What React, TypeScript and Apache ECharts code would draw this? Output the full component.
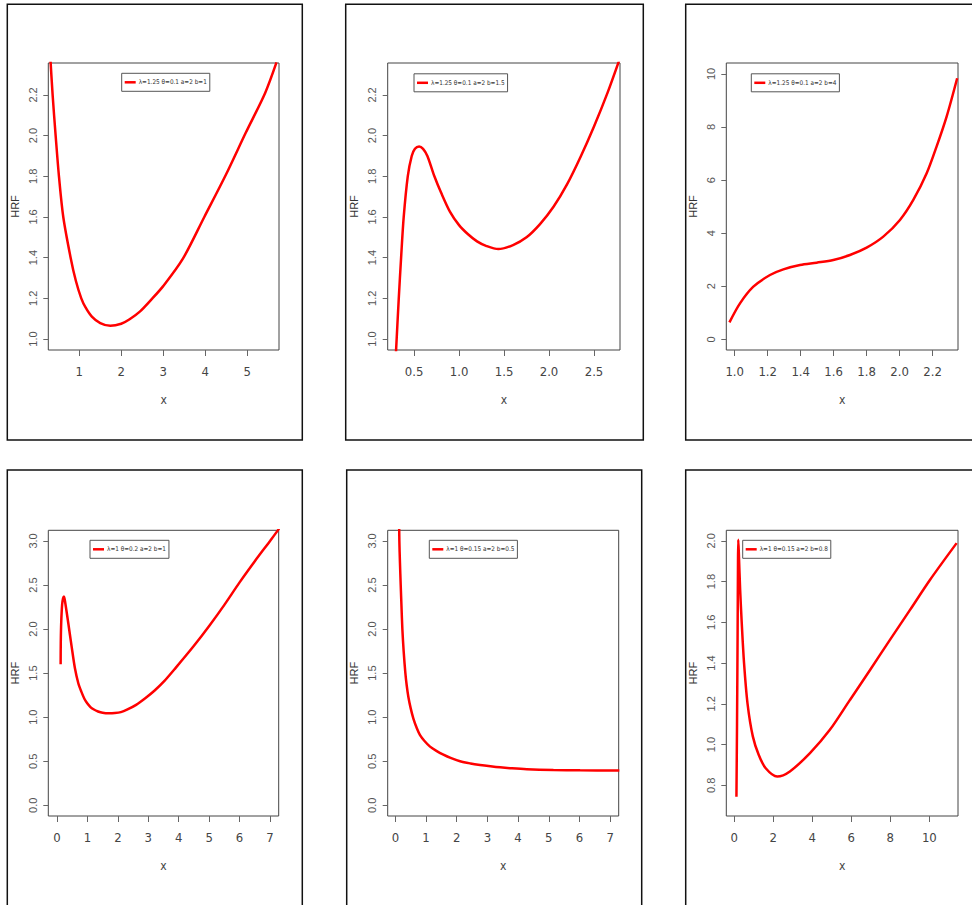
import React, { useEffect, useRef } from "react";
import * as echarts from "echarts";

// ---- Data ----
const p1Name = "λ=1.25 θ=0.1 a=2 b=1";
const p1X = [0.3, 0.365, 0.437, 0.516, 0.619, 0.794, 0.92, 1.048, 1.15, 1.3, 1.5, 1.74, 2.0, 2.2, 2.45, 2.7, 3.0, 3.47, 3.98, 4.5, 4.97, 5.43, 5.7];
const p1Y = [2.42, 2.2, 2.0, 1.8, 1.6, 1.4, 1.285, 1.2, 1.155, 1.11, 1.078, 1.065, 1.075, 1.097, 1.136, 1.19, 1.26, 1.395, 1.6, 1.81, 2.015, 2.21, 2.36];
const p1XTicks = [1, 2, 3, 4, 5];
const p1YTicks = [1.0, 1.2, 1.4, 1.6, 1.8, 2.0, 2.2];

const p2Name = "λ=1.25 θ=0.1 a=2 b=1.5";
const p2X = [0.295, 0.33, 0.356, 0.385, 0.43, 0.474, 0.51, 0.556, 0.6, 0.648, 0.726, 0.8, 0.9, 1.0, 1.1, 1.2, 1.3, 1.437, 1.6, 1.75, 1.9, 2.05, 2.2, 2.35, 2.5, 2.65, 2.78];
const p2Y = [0.9, 1.2, 1.4, 1.6, 1.8, 1.9, 1.935, 1.946, 1.935, 1.9, 1.8, 1.72, 1.625, 1.56, 1.515, 1.48, 1.458, 1.442, 1.462, 1.5, 1.565, 1.65, 1.76, 1.895, 2.045, 2.21, 2.37];
const p2XTicks = [0.5, 1.0, 1.5, 2.0, 2.5];
const p2YTicks = [1.0, 1.2, 1.4, 1.6, 1.8, 2.0, 2.2];

const p3Name = "λ=1.25 θ=0.1 a=2 b=4";
const p3X = [0.968, 1.032, 1.113, 1.214, 1.295, 1.396, 1.497, 1.598, 1.699, 1.8, 1.901, 2.002, 2.083, 2.164, 2.224, 2.285, 2.349];
const p3Y = [0.64, 1.357, 1.985, 2.425, 2.638, 2.8, 2.889, 2.99, 3.178, 3.455, 3.869, 4.497, 5.251, 6.256, 7.261, 8.392, 9.837];
const p3XTicks = [1.0, 1.2, 1.4, 1.6, 1.8, 2.0, 2.2];
const p3YTicks = [0, 2, 4, 6, 8, 10];

const p4Name = "λ=1 θ=0.2 a=2 b=1";
const p4X = [0.12, 0.125, 0.14, 0.17, 0.2, 0.23, 0.274, 0.372, 0.482, 0.59, 0.701, 0.8, 0.9, 1.0, 1.1, 1.2, 1.35, 1.5, 1.7, 1.9, 2.1, 2.3, 2.6, 2.9, 3.2, 3.5, 3.9, 4.5, 5.0, 5.5, 6.0, 6.5, 7.0, 7.3];
const p4Y = [1.6, 1.85, 2.08, 2.28, 2.35, 2.369, 2.293, 2.066, 1.801, 1.555, 1.385, 1.29, 1.21, 1.155, 1.115, 1.09, 1.065, 1.05, 1.044, 1.047, 1.058, 1.085, 1.14, 1.215, 1.3, 1.4, 1.56, 1.81, 2.035, 2.275, 2.53, 2.77, 3.0, 3.14];
const p4XTicks = [0, 1, 2, 3, 4, 5, 6, 7];
const p4YTicks = [0.0, 0.5, 1.0, 1.5, 2.0, 2.5, 3.0];

const p5Name = "λ=1 θ=0.15 a=2 b=0.5";
const p5X = [0.12, 0.13, 0.15, 0.174, 0.2, 0.228, 0.27, 0.326, 0.37, 0.424, 0.5, 0.587, 0.7, 0.804, 0.95, 1.13, 1.35, 1.565, 1.8, 2.109, 2.45, 2.761, 3.1, 3.413, 3.8, 4.283, 5.152, 6.022, 7.3];
const p5Y = [3.3, 3.0, 2.75, 2.5, 2.25, 2.0, 1.75, 1.5, 1.36, 1.23, 1.1, 0.985, 0.875, 0.797, 0.73, 0.666, 0.615, 0.575, 0.538, 0.5, 0.475, 0.458, 0.443, 0.431, 0.42, 0.41, 0.401, 0.397, 0.394];
const p5XTicks = [0, 1, 2, 3, 4, 5, 6, 7];
const p5YTicks = [0.0, 0.5, 1.0, 1.5, 2.0, 2.5, 3.0];

const p6Name = "λ=1 θ=0.15 a=2 b=0.8";
const p6X = [0.11, 0.14, 0.17, 0.19, 0.205, 0.24, 0.3, 0.38, 0.5, 0.68, 0.95, 1.25, 1.6, 2.2, 2.85, 3.88, 4.9, 5.93, 6.96, 7.98, 9.01, 10.03, 11.4];
const p6Y = [0.744, 1.1, 1.55, 1.9, 2.005, 1.92, 1.76, 1.6, 1.4, 1.2, 1.04, 0.95, 0.885, 0.843, 0.868, 0.958, 1.072, 1.219, 1.366, 1.514, 1.661, 1.808, 1.989];
const p6XTicks = [0, 2, 4, 6, 8, 10];
const p6YTicks = [0.8, 1.0, 1.2, 1.4, 1.6, 1.8, 2.0];

// ---- Layout ----
const panels = [
  { name: p1Name, xs: p1X, ys: p1Y, xt: p1XTicks, yt: p1YTicks, xr: [0.262, 5.76], yr: [0.946, 2.357], xd: 0, yd: 1,
    grid: { left: 48.3, top: 63, width: 230.7, height: 287 }, leg: { left: 121.7, top: 73.3 }, frame: [7.3, 4.3, 295, 435.7] },
  { name: p2Name, xs: p2X, ys: p2Y, xt: p2XTicks, yt: p2YTicks, xr: [0.207, 2.789], yr: [0.946, 2.357], xd: 1, yd: 1,
    grid: { left: 387.7, top: 63, width: 232.3, height: 287 }, leg: { left: 414, top: 73.8 }, frame: [345.7, 4.3, 297.6, 435.7] },
  { name: p3Name, xs: p3X, ys: p3Y, xt: p3XTicks, yt: p3YTicks, xr: [0.949, 2.354], yr: [-0.4, 10.41], xd: 1, yd: 0,
    grid: { left: 726.3, top: 63, width: 231.7, height: 287 }, leg: { left: 751.3, top: 73.8 }, frame: [685.7, 4.3, 300, 435.7] },
  { name: p4Name, xs: p4X, ys: p4Y, xt: p4XTicks, yt: p4YTicks, xr: [-0.285, 7.285], yr: [-0.121, 3.121], xd: 0, yd: 1,
    grid: { left: 48.3, top: 530.3, width: 230.4, height: 285.7 }, leg: { left: 90, top: 540.3 }, frame: [7.3, 470, 295, 450] },
  { name: p5Name, xs: p5X, ys: p5Y, xt: p5XTicks, yt: p5YTicks, xr: [-0.25, 7.28], yr: [-0.121, 3.121], xd: 0, yd: 1,
    grid: { left: 387.7, top: 530.3, width: 231, height: 285.7 }, leg: { left: 429.3, top: 540.3 }, frame: [346.7, 470, 295, 450] },
  { name: p6Name, xs: p6X, ys: p6Y, xt: p6XTicks, yt: p6YTicks, xr: [-0.41, 11.47], yr: [0.649, 2.052], xd: 0, yd: 1,
    grid: { left: 726.3, top: 530.3, width: 231.7, height: 285.7 }, leg: { left: 742.7, top: 540.3 }, frame: [685.7, 470, 300, 450] },
];

const NARROW = "'Liberation Sans Narrow', 'DejaVu Sans Condensed', 'Liberation Sans', sans-serif";
const SANS = "'Liberation Sans', Arial, sans-serif";

export default function App() {
  const ref = useRef<HTMLDivElement>(null);
  useEffect(() => {
    document.body.style.margin = "0";
    if (!ref.current) return;
    const chart = echarts.init(ref.current, null, { renderer: "svg" });
    const option: any = {
      animation: false,
      backgroundColor: "#ffffff",
      grid: panels.map((p) => ({ ...p.grid, show: true, borderColor: "#444", borderWidth: 1, backgroundColor: "transparent", containLabel: false })),
      xAxis: panels.map((p, i) => ({
        type: "value", gridIndex: i, min: p.xr[0], max: p.xr[1],
        name: "x", nameLocation: "middle", nameGap: 44,
        nameTextStyle: { fontSize: 12, color: "#444", fontFamily: NARROW },
        axisLine: { show: false, onZero: false },
        axisTick: { show: true, customValues: p.xt, length: 6, lineStyle: { color: "#666" } },
        axisLabel: { customValues: p.xt, formatter: (v: number) => v.toFixed(p.xd), fontSize: 13, color: "#444", fontFamily: NARROW, margin: 15 },
        splitLine: { show: false },
      })),
      yAxis: panels.map((p, i) => ({
        type: "value", gridIndex: i, min: p.yr[0], max: p.yr[1],
        name: "HRF", nameLocation: "middle", nameGap: 28,
        nameTextStyle: { fontSize: 11, color: "#333", fontFamily: SANS },
        axisLine: { show: false, onZero: false },
        axisTick: { show: true, customValues: p.yt, length: 5, lineStyle: { color: "#666" } },
        axisLabel: { customValues: p.yt, formatter: (v: number) => v.toFixed(p.yd), rotate: 90, fontSize: 11, color: "#555", fontFamily: SANS, margin: 10 },
        splitLine: { show: false },
      })),
      legend: panels.map((p) => ({
        data: [p.name], left: p.leg.left, top: p.leg.top, orient: "horizontal",
        borderColor: "#555", borderWidth: 1, backgroundColor: "#fff", padding: [6, 3, 6, 3],
        icon: "rect", itemWidth: 11, itemHeight: 2.5, itemGap: 0, selectedMode: false,
        textStyle: { fontSize: 6.4, color: "#333", fontFamily: NARROW, padding: [0, 0, 0, -2] },
      })),
      series: panels.map((p, i) => ({
        type: "line", name: p.name, xAxisIndex: i, yAxisIndex: i,
        data: p.xs.map((x, j) => [x, p.ys[j]]),
        showSymbol: false, symbol: "none", smooth: 0.3, clip: true,
        lineStyle: { color: "#ff0000", width: 2.5 }, itemStyle: { color: "#ff0000" },
      })),
      graphic: panels.map((p) => ({
        type: "rect", silent: true, z: 100,
        shape: { x: p.frame[0], y: p.frame[1], width: p.frame[2], height: p.frame[3] },
        style: { fill: "none", stroke: "#111", lineWidth: 1.5 },
      })),
    };
    chart.setOption(option);
    return () => chart.dispose();
  }, []);
  return <div ref={ref} style={{ width: 972, height: 905 }} />;
}
